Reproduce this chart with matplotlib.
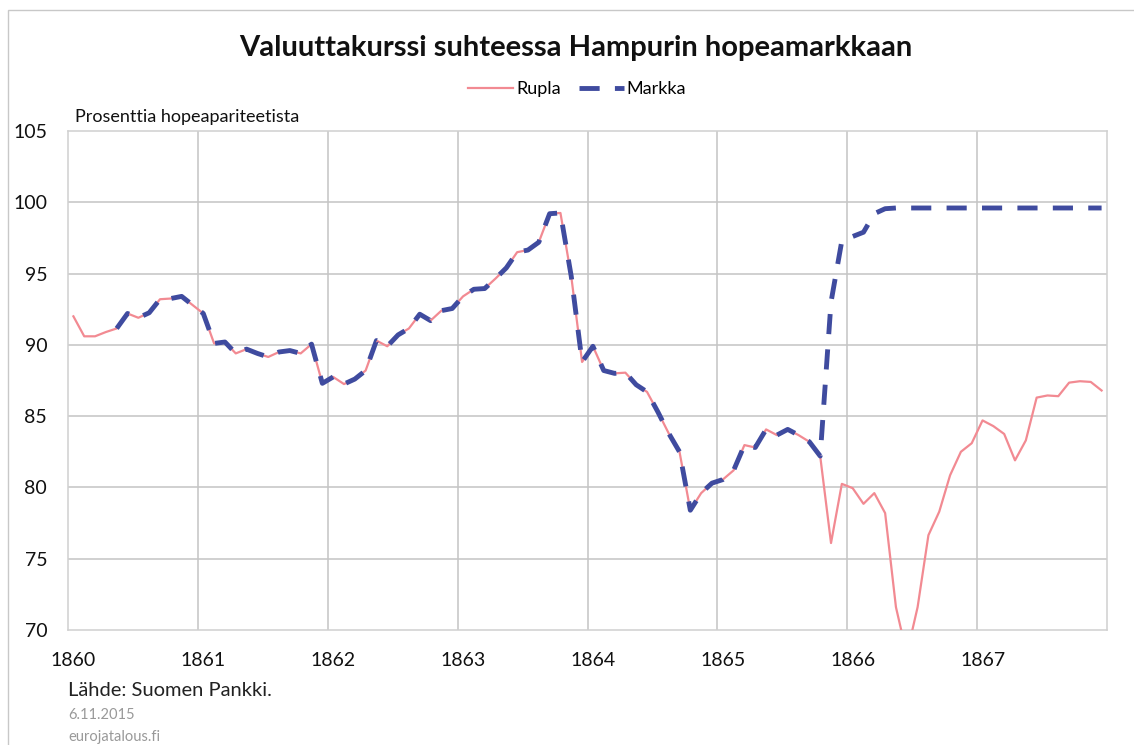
import numpy as np
import matplotlib
matplotlib.use("Agg")
import matplotlib.pyplot as plt
from matplotlib.lines import Line2D
from matplotlib.patches import Rectangle

plt.rcParams['font.family'] = ['Lato', 'DejaVu Sans']
plt.rcParams['lines.scale_dashes'] = False

years = [1860, 1861, 1862, 1863, 1864, 1865, 1866, 1867]

rupla = [92.0, 90.6, 90.6, 90.9, 91.15, 92.2, 91.9, 92.25, 93.2, 93.25, 93.4, 92.8,
         92.2, 90.1, 90.2, 89.4, 89.7, 89.4, 89.15, 89.5, 89.6, 89.4, 90.05, 87.3,
         87.75, 87.25, 87.6, 88.2, 90.3, 89.9, 90.7, 91.15, 92.15, 91.7, 92.4, 92.55,
         93.4, 93.9, 93.95, 94.65, 95.4, 96.5, 96.65, 97.2, 99.2, 99.25, 94.8, 88.8,
         89.9, 88.2, 88.0, 88.05, 87.2, 86.7, 85.3, 83.8, 82.5, 78.4, 79.6, 80.3,
         80.55, 81.2, 82.97, 82.8, 84.07, 83.67, 84.07, 83.67, 83.2, 82.2, 76.1, 80.25,
         79.95, 78.85, 79.6, 78.2, 71.6, 68.3, 71.6, 76.65, 78.3, 80.85, 82.5, 83.1,
         84.7, 84.3, 83.75, 81.9, 83.3, 86.3, 86.45, 86.4, 87.35, 87.45, 87.4, 86.8]

nan = float('nan')
markka = [nan, nan, nan, nan, 91.15, 92.2, 91.9, 92.25, 93.2, 93.25, 93.4, 92.8,
          92.2, 90.1, 90.2, 89.4, 89.7, 89.4, 89.15, 89.5, 89.6, 89.4, 90.05, 87.3,
          87.75, 87.25, 87.6, 88.2, 90.3, 89.9, 90.7, 91.15, 92.15, 91.7, 92.4, 92.55,
          93.4, 93.9, 93.95, 94.65, 95.4, 96.5, 96.65, 97.2, 99.2, 99.25, 94.8, 88.8,
          89.9, 88.2, 88.0, 88.05, 87.2, 86.7, 85.3, 83.8, 82.5, 78.4, 79.6, 80.3,
          80.55, 81.2, 82.97, 82.8, 84.07, 83.67, 84.07, 83.67, 83.2, 82.2, 93.0, 97.3,
          97.6, 97.9, 99.2, 99.55, 99.6, 99.6, 99.6, 99.6, 99.6, 99.6, 99.6, 99.6,
          99.6, 99.6, 99.6, 99.6, 99.6, 99.6, 99.6, 99.6, 99.6, 99.6, 99.6, 99.6]

yticks = [70, 75, 80, 85, 90, 95, 100, 105]

W, H = 1134, 745
fig = plt.figure(figsize=(W / 100, H / 100), dpi=100)
fig.patch.set_facecolor('white')

# outer chart frame (left and top edges visible)
fig.add_artist(Rectangle((7.5 / W, -0.1), 1.2, 1 - 10 / H + 0.1, transform=fig.transFigure,
                         fill=False, edgecolor='#c8c8c8', lw=1.0))

ax = fig.add_axes([68 / W, 1 - 630 / H, (1107 - 68) / W, (630 - 131) / H])
x = np.arange(len(rupla))

grid_c = '#c4c4c4'
ax.set_xlim(-0.5, len(rupla) - 0.5)
ax.set_ylim(70, 105)
for v in yticks[1:-1]:
    ax.axhline(v, color=grid_c, lw=1.1, zorder=1)
for k in range(1, len(years)):
    ax.axvline(12 * k - 0.5, color=grid_c, lw=1.1, zorder=1)
for s in ax.spines.values():
    s.set_color('#d0d0d0')
    s.set_linewidth(1.1)

ax.plot(x, rupla, color='#f28a92', lw=1.6, zorder=3, solid_joinstyle='round')
ax.plot(x, markka, color='#3f4b9f', lw=3.5, zorder=4, linestyle=(0, (14.5, 11.0)),
        dash_capstyle='butt', dash_joinstyle='round')

ax.set_yticks(yticks)
ax.set_yticklabels([str(v) for v in yticks], fontsize=14, color='#111111')
ax.set_xticks([12 * k for k in range(len(years))])
ax.set_xticklabels([str(y) for y in years], fontsize=14, color='#111111')
ax.tick_params(axis='y', length=0, pad=15)
ax.tick_params(axis='x', length=0, pad=16)

fig.text(576 / W, 1 - 48 / H, 'Valuuttakurssi suhteessa Hampurin hopeamarkkaan',
         ha='center', va='center', fontsize=21, fontweight='bold', color='#111111')
fig.text(75 / W, 1 - 117 / H, 'Prosenttia hopeapariteetista', ha='left', va='center',
         fontsize=13, color='#111111')

handles = [Line2D([], [], color='#f28a92', lw=1.6),
           Line2D([], [], color='#3f4b9f', lw=3.5, linestyle=(0, (14.5, 11.0)))]
fig.legend(handles, ['Rupla', 'Markka'], loc='center', bbox_to_anchor=(577 / W, 1 - 89 / H),
           ncol=2, frameon=False, fontsize=13, handlelength=2.5, handletextpad=0.15,
           columnspacing=1.0)

fig.text(68 / W, 1 - 690 / H, 'Lähde: Suomen Pankki.', ha='left', va='center',
         fontsize=14.5, color='#222222')
fig.text(68 / W, 1 - 715 / H, '6.11.2015', ha='left', va='center', fontsize=10.5,
         color='#999999')
fig.text(68 / W, 1 - 737 / H, 'eurojatalous.fi', ha='left', va='center', fontsize=10.5,
         color='#999999')

fig.savefig('out.png', dpi=100)
